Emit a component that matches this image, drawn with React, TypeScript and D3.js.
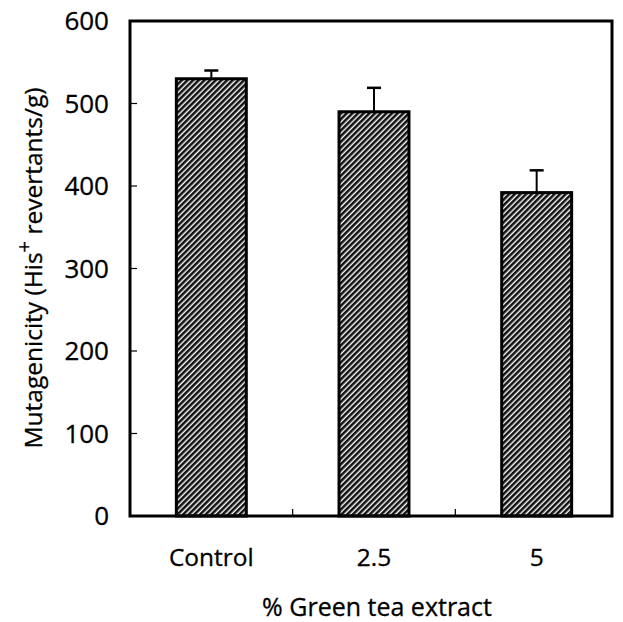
import React from "react";
import * as d3 from "d3";

const categories = ["Control", "2.5", "5"];
const means = [530, 490, 392];
const errors = [10, 29, 27];
const yTicks = [0, 100, 200, 300, 400, 500, 600];

export default function App() {
  const W = 623, H = 622;
  const left = 130, right = 612, top = 21, bottom = 516;
  const x = d3.scaleBand<string>().domain(categories).range([130, 618]).paddingInner(0.57).paddingOuter(0.285);
  const y = d3.scaleLinear().domain([0, 600]).range([bottom, top]);
  const font = "'Open Sans', 'DejaVu Sans', sans-serif";
  const bounds = categories.slice(1).map((c) => (x(c) as number) - (x.step() * x.paddingInner()) / 2);
  return (
    <svg width={W} height={H} style={{ position: "absolute", left: 0, top: 0, background: "#fff" }}>
      <defs>
        <pattern id="hatch" patternUnits="userSpaceOnUse" width="4" height="4" patternTransform="rotate(45)">
          <rect width="4" height="4" fill="#fff" />
          <rect x="0" y="0" width="2.6" height="4" fill="#111" />
        </pattern>
      </defs>
      {categories.map((c, i) => (
        <g key={c}>
          <rect x={x(c)} y={y(means[i])} width={x.bandwidth()} height={bottom - y(means[i])} fill="url(#hatch)" stroke="#000" strokeWidth={3} />
          <line x1={(x(c) as number) + x.bandwidth() / 2} x2={(x(c) as number) + x.bandwidth() / 2} y1={y(means[i])} y2={y(means[i] + errors[i])} stroke="#000" strokeWidth={2} />
          <line x1={(x(c) as number) + x.bandwidth() / 2 - 7} x2={(x(c) as number) + x.bandwidth() / 2 + 7} y1={y(means[i] + errors[i])} y2={y(means[i] + errors[i])} stroke="#000" strokeWidth={2.5} />
          <text x={(x(c) as number) + x.bandwidth() / 2} y={566} textAnchor="middle" fontFamily={font} fontSize={24.5} fill="#000" stroke="#000" strokeWidth={0.3}>{c}</text>
        </g>
      ))}
      {yTicks.map((t) => (
        <g key={t}>
          {t > 0 && t < 600 && <line x1={left} x2={left + 7} y1={y(t)} y2={y(t)} stroke="#000" strokeWidth={1.2} />}
          <text x={109} y={y(t)} dy="0.36em" textAnchor="end" fontFamily={font} fontSize={26} fill="#000" stroke="#000" strokeWidth={0.3}>{t}</text>
        </g>
      ))}
      {bounds.map((b, i) => (
        <line key={i} x1={b} x2={b} y1={bottom} y2={bottom - 7} stroke="#000" strokeWidth={1.2} />
      ))}
      <rect x={left} y={top} width={right - left} height={bottom - top} fill="none" stroke="#000" strokeWidth={3} />
      <text x={377} y={616} textAnchor="middle" fontFamily={font} fontSize={25} fill="#000" stroke="#000" strokeWidth={0.3}>% Green tea extract</text>
      <text transform={`translate(42, ${268}) rotate(-90)`} textAnchor="middle" fontFamily={font} fontSize={24.5} fill="#000" stroke="#000" strokeWidth={0.3}>
        Mutagenicity (His<tspan dy="-11" fontSize={20}>+</tspan><tspan dy="11">  revertants/g)</tspan>
      </text>
    </svg>
  );
}
